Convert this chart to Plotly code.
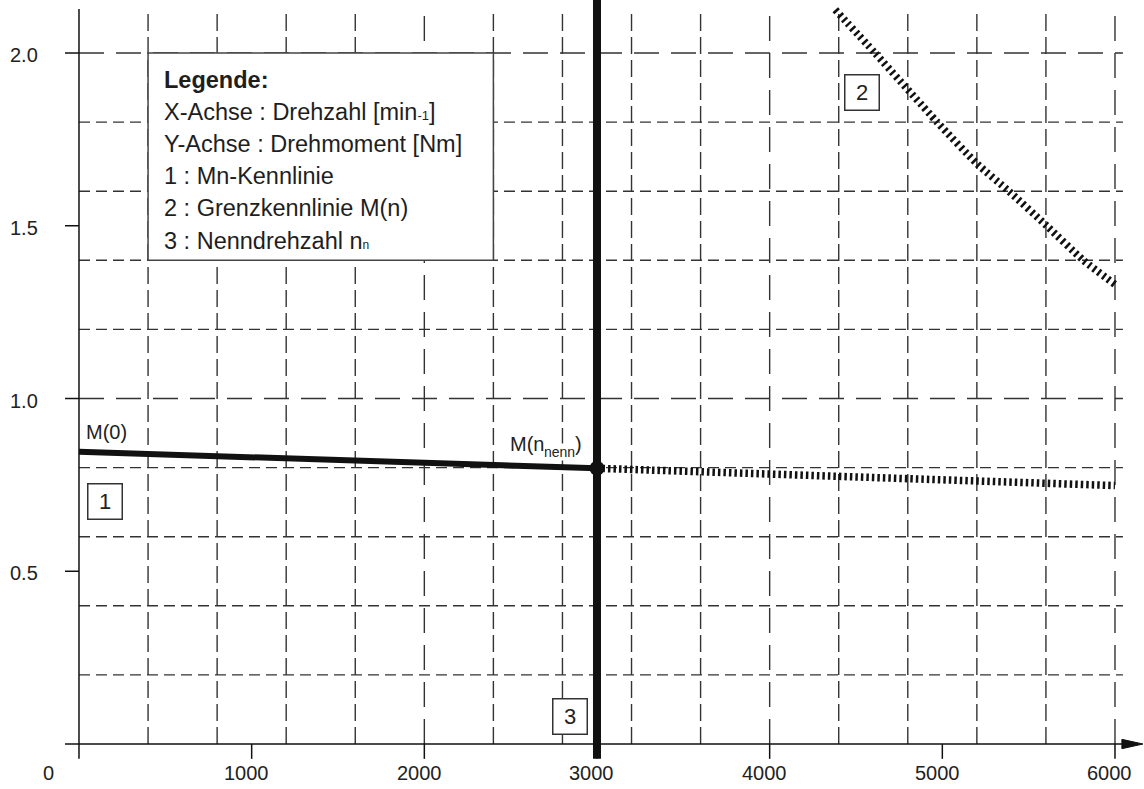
import plotly.graph_objects as go

# ---- data -------------------------------------------------------------
# Mn-Kennlinie (1): solid up to rated speed, hatched beyond
n_mn = [0, 3000]
m_mn = [0.846, 0.798]
n_mn_ext = [3000, 6000]
m_mn_ext = [0.798, 0.748]

# Grenzkennlinie M(n) (2)
n_grenz = [4380, 4610, 4970, 5200, 5385, 5604, 5817, 6000]
m_grenz = [2.125, 2.0, 1.8, 1.68, 1.6, 1.5, 1.4, 1.33]

# Nenndrehzahl (3)
n_nenn = 3000

# axis ticks
x_ticks = [0, 1000, 2000, 3000, 4000, 5000, 6000]
x_tick_labels = ["0", "1000", "2000", "3000", "4000", "5000", "6000"]
y_ticks = [0.5, 1.0, 1.5, 2.0]
y_tick_labels = ["0.5", "1.0", "1.5", "2.0"]

# grid
x_grid = [400 * k for k in range(1, 16)]
y_grid = [round(0.2 * k, 1) for k in range(1, 11)]

legend_lines = [
    "<b>Legende:</b>",
    "X-Achse : Drehzahl [min<span style='font-size:13px'>-1</span>]",
    "Y-Achse : Drehmoment [Nm]",
    "1 : Mn-Kennlinie",
    "2 : Grenzkennlinie M(n)",
    "3 : Nenndrehzahl n<span style='font-size:12px'>n</span>",
]

# ---- layout constants -------------------------------------------------
W, H = 1144, 789
X_RANGE = [-457.5, 6168.0]
Y_RANGE = [-0.1302, 2.1534]
INK = "#111111"
GRID = "#333333"
TXT_FONT = "Liberation Sans, Arial, sans-serif"

fig = go.Figure()
shapes = []
annotations = []

# grid lines (lines on whole units get long dashes)
for v in x_grid:
    major = v % 1000 == 0
    shapes.append(dict(type="line", xref="x", yref="y", x0=v, x1=v, y0=0, y1=2.12,
                       line=dict(color=GRID, width=1.4,
                                 dash="25px,12px" if major else "17px,6px"),
                       layer="below"))
for v in y_grid:
    major = abs(v - round(v)) < 1e-9
    shapes.append(dict(type="line", xref="x", yref="y", x0=0, x1=6046, y0=v, y1=v,
                       line=dict(color=GRID, width=1.4,
                                 dash="25px,12px" if major else "11px,6px"),
                       layer="below"))

# axes
shapes.append(dict(type="line", xref="x", yref="y", x0=-81, x1=6045, y0=0, y1=0,
                   line=dict(color=INK, width=1.5)))
shapes.append(dict(type="line", xref="x", yref="y", x0=0, x1=0, y0=-0.043, y1=2.127,
                   line=dict(color=INK, width=1.5)))
shapes.append(dict(type="path", xref="x", yref="y",
                   path="M 6040,0.0135 L 6162,0 L 6040,-0.0135 Z",
                   fillcolor=INK, line=dict(color=INK, width=1)))
for v in x_ticks[1:]:
    shapes.append(dict(type="line", xref="x", yref="y", x0=v, x1=v, y0=0, y1=-0.043,
                       line=dict(color=INK, width=1.5)))
for v in y_ticks:
    shapes.append(dict(type="line", xref="x", yref="y", x0=-81, x1=0, y0=v, y1=v,
                       line=dict(color=INK, width=1.5)))

# legend box occupies the grid cell 400..2400 / 1.4..2.0
shapes.append(dict(type="rect", xref="x", yref="y", x0=400, x1=2400, y0=1.4, y1=2.0,
                   fillcolor="white", line=dict(color="#444444", width=1.5),
                   layer="above"))

# tick labels
for v, t in zip(x_ticks, x_tick_labels):
    annotations.append(dict(x=v, y=0, xref="x", yref="y", text=t, showarrow=False,
                            xanchor="center", yanchor="middle",
                            xshift=-30 if v == 0 else -5, yshift=-29,
                            font=dict(family=TXT_FONT, size=20, color="#222222")))
for v, t in zip(y_ticks, y_tick_labels):
    annotations.append(dict(x=0, y=v, xref="x", yref="y", text=t, showarrow=False,
                            xanchor="right", yanchor="middle", xshift=-39, yshift=-2,
                            font=dict(family=TXT_FONT, size=20, color="#222222")))

# legend text
for i, line in enumerate(legend_lines):
    annotations.append(dict(x=479, y=1.994, xref="x", yref="y", text=line,
                            showarrow=False, xanchor="left", yanchor="middle",
                            yshift=-24.5 - 32.2 * i,
                            font=dict(family=TXT_FONT, size=23.5, color="#1e1e1e")))

# numbered marker boxes
for label, bx, by in [("1", 150, 0.703), ("2", 4535, 1.887), ("3", 2844, 0.0796)]:
    annotations.append(dict(x=bx, y=by, xref="x", yref="y", text=label, showarrow=False,
                            xanchor="center", yanchor="middle", width=33, height=34,
                            bgcolor="white", bordercolor="#333333", borderwidth=1.5,
                            borderpad=0,
                            font=dict(family=TXT_FONT, size=22, color="#222222")))

# curve labels
annotations.append(dict(x=0, y=m_mn[0], xref="x", yref="y", text="M(0)",
                        showarrow=False, xanchor="left", yanchor="bottom",
                        xshift=5, yshift=7,
                        font=dict(family=TXT_FONT, size=20, color="#222222")))
# "M(n_nenn)" set in three pieces so the index sits lowered and smaller
label_font = dict(family=TXT_FONT, size=20, color="#222222")
index_font = dict(family=TXT_FONT, size=14, color="#222222")
for text, font, dx, dy in [(")", label_font, -14, 12),
                           ("nenn", index_font, -20.7, 7),
                           ("M(n", label_font, -51.5, 12)]:
    annotations.append(dict(x=n_nenn, y=m_mn[1], xref="x", yref="y", text=text,
                            showarrow=False, xanchor="right", yanchor="bottom",
                            xshift=dx, yshift=dy, bgcolor="white", borderpad=0,
                            font=font))

# ---- traces -----------------------------------------------------------
fig.add_trace(go.Scatter(x=n_mn, y=m_mn, mode="lines",
                         line=dict(color=INK, width=6)))
fig.add_trace(go.Scatter(x=n_mn_ext, y=m_mn_ext, mode="lines",
                         line=dict(color=INK, width=7.5, dash="2.5px,3px")))
fig.add_trace(go.Scatter(x=n_grenz, y=m_grenz, mode="lines",
                         line=dict(color=INK, width=7.5, dash="2.5px,3.5px",
                                   shape="spline", smoothing=0.6)))
fig.add_trace(go.Scatter(x=[n_nenn, n_nenn], y=[-0.043, Y_RANGE[1]], mode="lines",
                         line=dict(color=INK, width=8)))
fig.add_trace(go.Scatter(x=[n_nenn], y=[m_mn[1]], mode="markers",
                         marker=dict(color=INK, size=15)))

fig.update_layout(
    width=W, height=H, autosize=False,
    margin=dict(l=0, r=0, t=0, b=0, pad=0),
    paper_bgcolor="white", plot_bgcolor="white",
    showlegend=False,
    xaxis=dict(range=X_RANGE, visible=False, fixedrange=True),
    yaxis=dict(range=Y_RANGE, visible=False, fixedrange=True),
    shapes=shapes, annotations=annotations,
)

fig.write_html("out.html")
